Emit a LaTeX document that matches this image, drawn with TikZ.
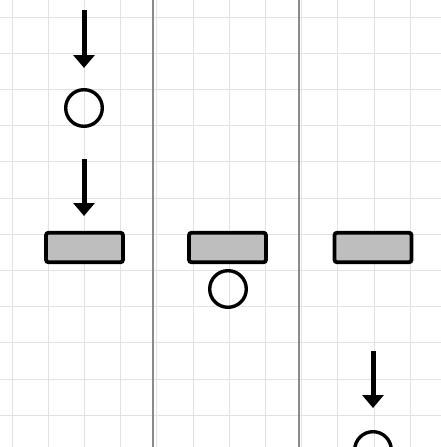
\documentclass[tikz,border=0pt]{standalone}
\usetikzlibrary{arrows.meta}
\definecolor{gridc}{HTML}{E2E2E2}
\definecolor{divc}{HTML}{8A8A8A}
\definecolor{boxfill}{HTML}{BEBEBE}
\begin{document}
\begin{tikzpicture}[x=1pt,y=-1pt,
  block/.style={draw=black, line width=3.8pt, fill=boxfill, rounded corners=2.5pt,
    minimum width=77pt, minimum height=29.5pt, inner sep=0pt},
  ball/.style={draw=black, line width=3.4pt, circle, minimum size=36.6pt, inner sep=0pt},
  fall/.style={line width=5pt, -{Triangle[width=21pt,length=13pt]}},
  gridline/.style={draw=gridc, line width=1pt},
  divider/.style={draw=divc, line width=1.3pt}]
\useasboundingbox (0,0) rectangle (441,447);
\clip (0,0) rectangle (441,447);
\fill[white] (0,0) rectangle (441,447);
% grid
\foreach \k in {0,...,11} {
  \draw[gridline] ({12+\k*36.2},0) -- ({12+\k*36.2},447);
  \draw[gridline] (0,{17+\k*36.2}) -- (441,{17+\k*36.2});
}
% dividers
\draw[divider] (153,0) -- (153,447);
\draw[divider] (299,0) -- (299,447);
% panel 1
\coordinate (a1s) at (84,10);
\coordinate (a1e) at (84,68);
\draw[fall] (a1s) -- (a1e);
\node[ball] (c1) at (84,108) {};
\coordinate (a2s) at (84,159);
\coordinate (a2e) at (84,216);
\draw[fall] (a2s) -- (a2e);
\node[block] (b1) at (84.5,247.5) {};
% panel 2
\node[block] (b2) at (227.5,247.5) {};
\node[ball] (c2) at (228,289) {};
% panel 3
\node[block] (b3) at (373,247.5) {};
\coordinate (a3s) at (373,351);
\coordinate (a3e) at (373,408);
\draw[fall] (a3s) -- (a3e);
\node[ball] (c3) at (373,450) {};
\end{tikzpicture}
\end{document}
